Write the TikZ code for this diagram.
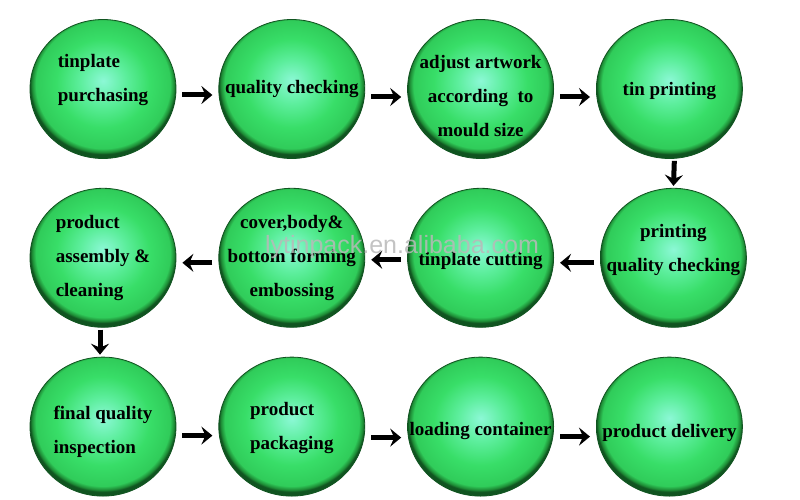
\documentclass[tikz,border=0pt]{standalone}
\usepackage{fontspec}
\setmainfont{Liberation Serif}
\newfontfamily\markfont{Liberation Sans}
\usetikzlibrary{arrows.meta,positioning,shapes.geometric}
\definecolor{ballHi}{RGB}{140,248,214}
\definecolor{ballMid}{RGB}{92,238,156}
\definecolor{ballGreen}{RGB}{56,222,104}
\definecolor{ballEdge}{RGB}{48,204,90}
\definecolor{ballRim}{RGB}{30,140,54}
\definecolor{ballDark}{RGB}{16,84,32}
\pgfdeclareradialshading{greenball}{\pgfpoint{0bp}{3bp}}{%
  color(0bp)=(ballHi); color(8bp)=(ballMid); color(16bp)=(ballGreen);
  color(23bp)=(ballEdge); color(24.3bp)=(ballRim); color(25bp)=(ballDark); color(50bp)=(ballDark)}
\tikzset{
  stage/.style={ellipse,minimum width=146pt,minimum height=139pt,inner sep=0pt,
    shading=greenball,draw=ballDark,line width=0.8pt},
  caption/.style={align=center,inner sep=0pt,font=\bfseries\fontsize{19}{34}\selectfont},
  flow/.style={line width=5pt,-{Stealth[length=11pt,width=18pt,inset=4pt]},
    shorten <=6pt,shorten >=6pt},
  drop/.style={flow,shorten <=2pt,shorten >=2pt}
}

\begin{document}
\begin{tikzpicture}[x=1pt,y=-1pt,node distance=42pt and 42pt]
\useasboundingbox (0,0) rectangle (800,500);
% first row
\node[stage] (buy) at (103,89) {};
\node[stage,right=of buy] (check) {};
\node[stage,right=of check] (artwork) {};
\node[stage,right=of artwork] (print) {};
% second row
\node[stage,below=29pt of print,xshift=4pt] (printcheck) {};
\node[stage,left=of printcheck,xshift=-4pt] (cut) {};
\node[stage,left=of cut] (form) {};
\node[stage,left=of form] (assembly) {};
% third row
\node[stage,below=29pt of assembly] (final) {};
\node[stage,right=of final] (pack) {};
\node[stage,right=of pack] (load) {};
\node[stage,right=of load] (deliver) {};
% texts
\node[caption,align=left] (buyText) at ([yshift=9pt]buy) {tinplate\\purchasing};
\node[caption] (checkText) at (check) {quality checking};
\node[caption] (artworkText) at ([yshift=-7pt]artwork) {adjust artwork\\according~ to\\mould size};
\node[caption] (printText) at ([yshift=-2pt]print) {tin printing};
\node[caption] (printcheckText) at ([yshift=8pt]printcheck) {printing\\quality checking};
\node[caption] (cutText) at ([yshift=-3pt]cut) {tinplate cutting};
\node[caption] (formText) at (form) {cover,body\&\\bottom forming\\embossing};
\node[caption,align=left] (assemblyText) at (assembly) {product\\assembly \&\\cleaning};
\node[caption,align=left] (finalText) at ([yshift=-5pt]final) {final quality\\inspection};
\node[caption,align=left] (packText) at ([yshift=-1pt]pack) {product\\packaging};
\node[caption] (loadText) at ([yshift=-4pt]load) {loading container};
\node[caption] (deliverText) at ([yshift=-6pt]deliver) {product delivery};
% watermark
\node[font=\markfont\fontsize{25}{25}\selectfont,text=gray!55,text opacity=0.85] (mark) at (402,247) {lytinpack.en.alibaba.com};
% arrows
\draw[flow] ([yshift=-6pt]buy.east) -- ([yshift=-6pt]check.west);
\draw[flow] ([yshift=-8pt]check.east) -- ([yshift=-8pt]artwork.west);
\draw[flow] ([yshift=-8pt]artwork.east) -- ([yshift=-8pt]print.west);
\draw[drop] ([xshift=5pt]print.south) -- (printcheck.north);
\draw[flow] ([yshift=-5pt]printcheck.west) -- ([yshift=-5pt]cut.east);
\draw[flow] ([yshift=-2pt]cut.west) -- ([yshift=-2pt]form.east);
\draw[flow] ([yshift=-5pt]form.west) -- ([yshift=-5pt]assembly.east);
\draw[drop] ([xshift=-3pt]assembly.south) -- ([xshift=-3pt]final.north);
\draw[flow] ([yshift=-9pt]final.east) -- ([yshift=-9pt]pack.west);
\draw[flow] ([yshift=-11pt]pack.east) -- ([yshift=-11pt]load.west);
\draw[flow] ([yshift=-10pt]load.east) -- ([yshift=-10pt]deliver.west);
\end{tikzpicture}
\end{document}
